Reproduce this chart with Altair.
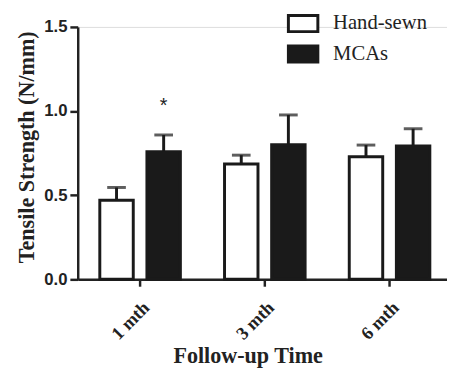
import altair as alt
import pandas as pd

categories = ["1 mth", "3 mth", "6 mth"]
groups = ["Hand-sewn", "MCAs"]
hand_sewn = [0.47, 0.685, 0.728]
hand_sewn_upper = [0.546, 0.738, 0.798]
mcas = [0.759, 0.80, 0.792]
mcas_upper = [0.858, 0.977, 0.895]
star_category = "1 mth"
star_group = "MCAs"
star_y = 1.03

rows = []
for i, c in enumerate(categories):
    rows.append({"time": c, "group": groups[0], "value": hand_sewn[i], "upper": hand_sewn_upper[i]})
    rows.append({"time": c, "group": groups[1], "value": mcas[i], "upper": mcas_upper[i]})
df = pd.DataFrame(rows)
star_df = pd.DataFrame([{"time": star_category, "group": star_group, "y": star_y, "t": "*"}])

serif = "Liberation Serif"
sans = "Liberation Sans"

x = alt.X("time:N", sort=categories,
          scale=alt.Scale(range=[0, 381], paddingInner=0.354, paddingOuter=0.177),
          axis=alt.Axis(title="Follow-up Time", titleFont=serif, titleFontSize=22.5,
                        titleFontWeight="bold", titleColor="#222", titleX=173, titleY=85,
                        titleBaseline="alphabetic",
                        labelAngle=-45, labelFont=serif, labelFontSize=18.5, labelFontWeight="bold",
                        labelColor="#222", labelPadding=12, tickSize=7, tickWidth=2.5,
                        tickColor="#222", domainColor="#222", domainWidth=2.5, grid=False))
xo = alt.XOffset("group:N", sort=groups, scale=alt.Scale(paddingInner=0.29, paddingOuter=0))
y = alt.Y("value:Q", scale=alt.Scale(domain=[0, 1.5], nice=False),
          axis=alt.Axis(values=[0, 0.5, 1.0, 1.5], format=".1f", title="Tensile Strength (N/mm)",
                        titleFont=serif, titleFontSize=22.5, titleFontWeight="bold", titleColor="#222",
                        titleX=-52, titleY=122, titleAngle=-90, titleBaseline="middle",
                        labelFont=sans, labelFontSize=17, labelFontWeight="bold", labelColor="#222",
                        labelPadding=3, tickSize=8, tickWidth=2.5, tickColor="#222",
                        domainColor="#222", domainWidth=2.5, grid=False))

base = alt.Chart(df)

bars = base.mark_bar(stroke="#1a1a1a", strokeWidth=3, strokeJoin="miter").encode(
    x=x, xOffset=xo, y=y,
    fill=alt.Fill("group:N", sort=groups,
                  scale=alt.Scale(domain=groups, range=["white", "#1a1a1a"]),
                  legend=alt.Legend(title=None, orient="none", legendX=213, legendY=-20,
                                    symbolType="M-1,-0.55L1,-0.55L1,0.55L-1,0.55Z",
                                    symbolSize=900, symbolStrokeColor="#1a1a1a",
                                    symbolStrokeWidth=3, labelFont=serif, labelFontSize=21,
                                    labelColor="#222", labelOffset=14, rowPadding=0)),
)

rules = base.mark_rule(color="#1a1a1a", strokeWidth=3).encode(
    x="time:N", xOffset=xo, y="value:Q", y2="upper:Q")

caps = base.mark_tick(color="#1a1a1a", thickness=3, size=19, orient="horizontal").encode(
    x="time:N", xOffset=xo, y="upper:Q")

star = alt.Chart(star_df).mark_text(font=sans, fontSize=20, color="#222", baseline="middle").encode(
    x="time:N", xOffset=alt.XOffset("group:N", sort=groups), y="y:Q", text="t:N")

chart = alt.layer(bars, rules, caps, star).properties(
    width=376, height=257,
    autosize=alt.AutoSizeParams(type="none"),
    padding={"left": 71, "top": 16, "right": 0, "bottom": 88},
).configure_view(stroke=None).configure(background="white")

chart.save("out.html", embed_options={"renderer": "svg", "actions": False})
